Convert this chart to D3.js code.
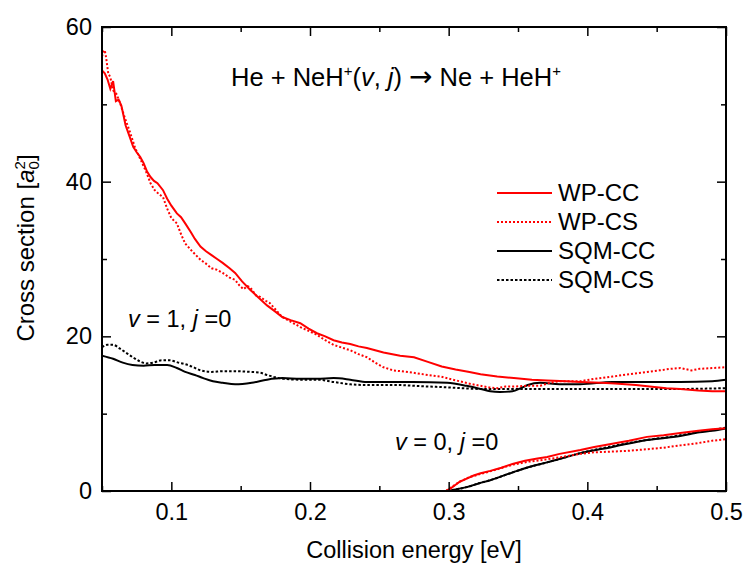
<!DOCTYPE html>
<html><head><meta charset="utf-8">
<script src="https://cdn.jsdelivr.net/npm/d3@7"></script>
<style>body{margin:0;background:#fff}text{font-family:"Liberation Sans",Arial,sans-serif}</style>
</head><body><svg id="c" width="744" height="566"></svg>
<script>
// ---- data (energy eV, cross section a0^2) ----
const xTicks = [0.1, 0.2, 0.3, 0.4, 0.5];
const xMinor = [0.05, 0.15, 0.25, 0.35, 0.45];
const yTicks = [0, 20, 40, 60];
const yMinor = [10, 30, 50];
const seriesNames = ["WP-CC", "WP-CS", "SQM-CC", "SQM-CS"];

const wpCC_v1 = [[0.05,54.4],[0.052,54.0],[0.054,53.2],[0.056,52.0],[0.058,53.0],[0.06,50.4],[0.062,50.6],[0.064,49.8],[0.067,47.3],[0.07,45.8],[0.0725,44.5],[0.075,43.8],[0.0775,43.2],[0.08,42.4],[0.0825,41.3],[0.085,40.6],[0.0875,40.1],[0.09,39.8],[0.094,38.9],[0.097,37.8],[0.1,36.9],[0.104,35.9],[0.107,35.4],[0.11,34.6],[0.114,33.5],[0.117,32.6],[0.121,31.6],[0.125,31.0],[0.129,30.5],[0.133,30.0],[0.137,29.5],[0.142,28.8],[0.146,28.2],[0.151,27.1],[0.157,26.0],[0.163,25.0],[0.169,24.0],[0.175,23.2],[0.18,22.5],[0.186,22.1],[0.193,21.7],[0.199,21.0],[0.205,20.4],[0.211,20.0],[0.217,19.5],[0.223,19.2],[0.229,19.0],[0.235,18.7],[0.241,18.5],[0.247,18.2],[0.253,17.9],[0.265,17.5],[0.275,17.3],[0.285,16.7],[0.295,16.1],[0.305,15.7],[0.315,15.4],[0.323,15.1],[0.335,14.8],[0.347,14.6],[0.36,14.4],[0.371,14.3],[0.385,14.2],[0.395,14.1],[0.41,14.0],[0.42,13.9],[0.435,13.7],[0.445,13.5],[0.457,13.3],[0.467,13.2],[0.48,13.0],[0.49,12.9],[0.5,12.9]];
const wpCS_v1 = [[0.05,56.2],[0.051,56.8],[0.052,57.0],[0.053,56.0],[0.0545,54.0],[0.056,53.5],[0.058,51.8],[0.06,51.5],[0.063,50.2],[0.066,48.5],[0.07,46.5],[0.074,44.3],[0.078,42.8],[0.082,41.2],[0.085,39.8],[0.088,38.9],[0.091,38.4],[0.094,38.0],[0.097,36.5],[0.1,35.3],[0.104,34.6],[0.107,33.2],[0.11,32.0],[0.115,31.0],[0.121,29.9],[0.125,29.4],[0.129,28.8],[0.133,28.6],[0.137,28.2],[0.142,27.6],[0.146,27.3],[0.149,26.6],[0.152,26.1],[0.155,26.5],[0.157,26.3],[0.161,25.3],[0.164,25.1],[0.168,24.6],[0.171,24.3],[0.175,23.5],[0.18,22.5],[0.185,22.0],[0.19,21.5],[0.193,21.2],[0.199,20.7],[0.205,20.2],[0.211,19.5],[0.217,18.9],[0.222,18.6],[0.229,18.2],[0.235,17.7],[0.241,17.3],[0.247,16.6],[0.253,16.0],[0.26,15.6],[0.265,15.5],[0.274,15.3],[0.285,15.0],[0.294,14.8],[0.303,14.4],[0.31,14.1],[0.317,13.8],[0.323,13.6],[0.329,13.4],[0.335,13.3],[0.341,13.5],[0.347,13.5],[0.356,13.6],[0.366,13.6],[0.373,14.0],[0.38,14.2],[0.395,14.2],[0.405,14.5],[0.418,14.8],[0.43,15.1],[0.443,15.4],[0.452,15.6],[0.46,15.8],[0.467,15.9],[0.475,15.6],[0.481,15.8],[0.49,15.9],[0.5,16.0]];
const sqmCC_v1 = [[0.05,17.5],[0.058,17.1],[0.065,16.6],[0.072,16.3],[0.08,16.2],[0.088,16.3],[0.097,16.3],[0.104,15.9],[0.11,15.4],[0.117,15.0],[0.123,14.6],[0.13,14.2],[0.137,14.0],[0.146,13.8],[0.158,14.0],[0.169,14.4],[0.18,14.6],[0.193,14.5],[0.205,14.5],[0.217,14.6],[0.229,14.4],[0.241,14.1],[0.255,14.1],[0.274,14.1],[0.299,14.0],[0.313,13.6],[0.323,13.2],[0.33,12.9],[0.337,12.8],[0.346,12.9],[0.352,13.3],[0.357,13.7],[0.366,14.0],[0.38,13.8],[0.395,13.8],[0.418,14.1],[0.443,14.1],[0.467,14.1],[0.49,14.2],[0.5,14.4]];
const sqmCS_v1 = [[0.05,18.6],[0.054,18.9],[0.058,18.9],[0.063,18.4],[0.068,17.8],[0.073,17.2],[0.078,16.7],[0.082,16.5],[0.087,16.6],[0.093,16.9],[0.099,16.9],[0.105,16.6],[0.11,16.4],[0.116,16.0],[0.121,15.6],[0.129,15.4],[0.137,15.5],[0.146,15.5],[0.157,15.4],[0.164,15.3],[0.169,15.0],[0.175,14.7],[0.181,14.5],[0.193,14.4],[0.205,14.4],[0.217,14.1],[0.229,13.8],[0.241,13.7],[0.265,13.7],[0.275,13.6],[0.299,13.4],[0.323,13.2],[0.347,13.2],[0.371,13.2],[0.42,13.2],[0.467,13.2],[0.5,13.3]];

const wpCC_v0 = [[0.285,0],[0.298,0],[0.302,0.4],[0.305,0.8],[0.308,1.2],[0.313,1.6],[0.318,2.0],[0.323,2.3],[0.33,2.6],[0.338,3.0],[0.346,3.5],[0.355,3.9],[0.364,4.2],[0.371,4.4],[0.38,4.8],[0.395,5.3],[0.405,5.7],[0.418,6.1],[0.43,6.5],[0.443,7.0],[0.455,7.2],[0.467,7.5],[0.48,7.8],[0.49,8.0],[0.5,8.1]];
const wpCS_v0 = [[0.284,0],[0.298,0],[0.302,0.5],[0.308,1.2],[0.315,1.8],[0.323,2.2],[0.335,2.8],[0.346,3.4],[0.358,3.8],[0.371,4.1],[0.385,4.5],[0.395,4.8],[0.405,5.0],[0.418,5.1],[0.43,5.2],[0.443,5.4],[0.455,5.6],[0.467,5.9],[0.48,6.2],[0.49,6.5],[0.5,6.7]];
const sqmCC_v0 = [[0.285,0],[0.298,0],[0.305,0.2],[0.313,0.5],[0.322,1.0],[0.33,1.4],[0.346,2.4],[0.358,3.1],[0.371,3.7],[0.385,4.4],[0.395,4.9],[0.418,5.7],[0.443,6.6],[0.467,7.1],[0.481,7.6],[0.49,7.8],[0.5,8.1]];
const sqmCS_v0 = [[0.27,0],[0.298,0],[0.305,0.2],[0.313,0.5],[0.322,1.0],[0.33,1.4],[0.346,2.4],[0.358,3.1],[0.371,3.7],[0.385,4.4],[0.395,4.9],[0.418,5.8],[0.443,6.6],[0.467,7.2],[0.481,7.7],[0.49,7.9],[0.5,8.2]];

// ---- layout ----
const L = 102, R = 726, T = 27, B = 491;
const svg = d3.select("#c");
const x = d3.scaleLinear().domain([0.05, 0.5]).range([L, R]);
const y = d3.scaleLinear().domain([0, 60]).range([B, T]);

svg.append("defs").append("clipPath").attr("id","clip")
  .append("rect").attr("x",L).attr("y",T).attr("width",R-L).attr("height",B-T);

const styles = {
  "WP-CC":  {color:"#ff0000", dash:null},
  "WP-CS":  {color:"#ff0000", dash:"2,2"},
  "SQM-CC": {color:"#000000", dash:null},
  "SQM-CS": {color:"#000000", dash:"2.5,2"}
};
const lineRough = d3.line().x(d=>x(d[0])).y(d=>y(d[1]));
const lineSmooth = d3.line().x(d=>x(d[0])).y(d=>y(d[1])).curve(d3.curveMonotoneX);

const plot = svg.append("g").attr("clip-path","url(#clip)");
const draws = [
  [sqmCS_v1,"SQM-CS",lineSmooth],[sqmCC_v1,"SQM-CC",lineSmooth],
  [sqmCS_v0,"SQM-CS",lineSmooth],[sqmCC_v0,"SQM-CC",lineSmooth],
  [wpCS_v1,"WP-CS",lineRough],[wpCC_v1,"WP-CC",lineRough],
  [wpCS_v0,"WP-CS",lineRough],[wpCC_v0,"WP-CC",lineRough]
];
draws.forEach(([data,name,gen])=>{
  const s = styles[name];
  plot.append("path").attr("d",gen(data)).attr("fill","none")
    .attr("stroke",s.color).attr("stroke-width",2)
    .attr("stroke-dasharray",s.dash);
});

// ---- axes (ticks inward on all sides) ----
const fs = 23.5;
function styleAxis(g){ g.select(".domain").remove(); g.selectAll("line").attr("stroke","#000").attr("stroke-width",1.5);
  g.selectAll("text").attr("font-size",fs).attr("fill","#000").style("font-family",'"Liberation Sans",Arial,sans-serif'); }
svg.append("g").attr("transform",`translate(0,${B})`)
  .call(d3.axisBottom(x).tickValues(xTicks).tickSize(-9).tickPadding(12).tickFormat(d3.format(".1f"))).call(styleAxis);
svg.append("g").attr("transform",`translate(0,${B})`)
  .call(d3.axisBottom(x).tickValues(xMinor).tickSize(-5).tickFormat("")).call(styleAxis);
svg.append("g").attr("transform",`translate(0,${T})`)
  .call(d3.axisTop(x).tickValues(xTicks).tickSize(-9).tickFormat("")).call(styleAxis);
svg.append("g").attr("transform",`translate(0,${T})`)
  .call(d3.axisTop(x).tickValues(xMinor).tickSize(-5).tickFormat("")).call(styleAxis);
svg.append("g").attr("transform",`translate(${L},0)`)
  .call(d3.axisLeft(y).tickValues(yTicks).tickSize(-9).tickPadding(10)).call(styleAxis);
svg.append("g").attr("transform",`translate(${L},0)`)
  .call(d3.axisLeft(y).tickValues(yMinor).tickSize(-5).tickFormat("")).call(styleAxis);
svg.append("g").attr("transform",`translate(${R},0)`)
  .call(d3.axisRight(y).tickValues(yTicks).tickSize(-9).tickFormat("")).call(styleAxis);
svg.append("g").attr("transform",`translate(${R},0)`)
  .call(d3.axisRight(y).tickValues(yMinor).tickSize(-5).tickFormat("")).call(styleAxis);

svg.append("rect").attr("x",L).attr("y",T).attr("width",R-L).attr("height",B-T)
  .attr("fill","none").attr("stroke","#000").attr("stroke-width",2);

// ---- axis titles ----
svg.append("text").attr("x",414).attr("y",558).attr("text-anchor","middle")
  .attr("font-size",23.5).text("Collision energy [eV]");
const yl = svg.append("text").attr("transform","translate(34,248) rotate(-90)")
  .attr("text-anchor","middle").attr("font-size",24);
yl.append("tspan").text("Cross section [");
yl.append("tspan").attr("font-style","italic").text("a");
yl.append("tspan").attr("font-size",15).attr("dy",5).text("0");
yl.append("tspan").attr("font-size",15).attr("dx",-8.3).attr("dy",-14).text("2");
yl.append("tspan").attr("dy",9).text("]");

// ---- title ----
const t = svg.append("text").attr("x",231).attr("y",86).attr("font-size",25.5);
t.append("tspan").text("He + NeH");
t.append("tspan").attr("font-size",15).attr("dy",-10).text("+");
t.append("tspan").attr("dy",10).text("(");
t.append("tspan").attr("font-style","italic").text("v");
t.append("tspan").text(", ");
t.append("tspan").attr("font-style","italic").text("j");
t.append("tspan").text(")");
t.append("tspan").attr("dx",7).style("font-family",'"DejaVu Sans",sans-serif').attr("font-size",28).text("\u2192");
t.append("tspan").attr("dx",7).text("Ne + HeH");
t.append("tspan").attr("font-size",15).attr("dy",-10).text("+");

// ---- annotations ----
function ann(xp, yp, vv){
  const a = svg.append("text").attr("x",xp).attr("y",yp).attr("font-size",23.5);
  a.append("tspan").attr("font-style","italic").text("v");
  a.append("tspan").text(` = ${vv}, `);
  a.append("tspan").attr("font-style","italic").text("j");
  a.append("tspan").text(" =0");
}
ann(128, 327, 1);
ann(395, 450, 0);

// ---- legend ----
const lg = svg.append("g");
seriesNames.forEach((n,i)=>{
  const yy = 193 + i*29;
  const s = styles[n];
  lg.append("line").attr("x1",497).attr("x2",552).attr("y1",yy).attr("y2",yy)
    .attr("stroke",s.color).attr("stroke-width",2).attr("stroke-dasharray",s.dash);
  lg.append("text").attr("x",558).attr("y",yy+8).attr("font-size",24).text(n);
});
</script></body></html>
